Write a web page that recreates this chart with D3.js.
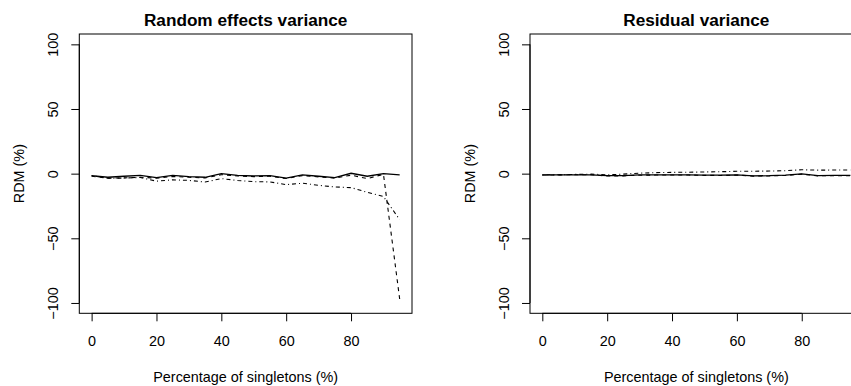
<!DOCTYPE html>
<html>
<head>
<meta charset="utf-8">
<script src="https://cdn.jsdelivr.net/npm/d3@7"></script>
<style>
  body { margin: 0; background: #fff; }
  svg text { font-family: "Liberation Sans", Arial, sans-serif; fill: #000; }
</style>
</head>
<body>
<svg id="chart" width="851" height="386"></svg>
<script>
const singletons = [0, 5, 10, 15, 20, 25, 30, 35, 40, 45, 50, 55, 60, 65, 70, 75, 80, 85, 90, 95];

// random effects variance panel
const reSolid   = [-1.5, -2.8, -2, -1.3, -3, -1.3, -2.3, -2.8, 0, -1.3, -1.8, -1.5, -3.4, -1, -2, -3, 0.3, -2, 0, -1];
const reDashed  = [-2, -3.5, -3.3, -2.8, -3.5, -2.2, -2.8, -3.3, -0.8, -1.8, -2.3, -2, -3.8, -1.5, -2.5, -3.5, -1.2, -3.8, -0.5, -97];
const reDotDash = [-1.5, -3.6, -3.4, -3, -5.8, -4.8, -5.2, -6.5, -3.8, -5.3, -6.2, -6.4, -8.5, -7.4, -9, -10.3, -10.8, -14.4, -17.7, -35.6];

// residual variance panel
const resSolid   = [-1, -1, -1, -1, -1.6, -1.5, -1, -1, -1, -1, -1.1, -1.2, -0.9, -1.7, -1.6, -1.2, -0.2, -1.5, -1.4, -1.4];
const resDashed  = [-1, -1, -0.8, -0.8, -1.8, -1.7, -1.2, -1.1, -1, -1.1, -1.3, -1.4, -1.1, -1.9, -1.8, -1.4, -0.4, -1.7, -1.6, -1.6];
const resDotDash = [-1, -0.8, -0.6, -0.4, -0.9, -0.4, 0.4, 0.8, 1, 1.1, 1.3, 1.5, 1.8, 1.9, 2, 2.3, 3, 2.7, 2.8, 2.8];

const xTicks = [0, 20, 40, 60, 80];
const yTicks = [-100, -50, 0, 50, 100];

const panels = [
  { title: "Random effects variance", left: 79.3, series: [reSolid, reDashed, reDotDash] },
  { title: "Residual variance", left: 530, series: [resSolid, resDashed, resDotDash] }
];

const lineStyles = [
  { dash: null, width: 1.3 },
  { dash: "4,4", width: 1.1 },
  { dash: "1,3,4,3", width: 1.1 }
];

const svg = d3.select("#chart");
const boxW = 332.7, boxTop = 34, boxBottom = 313.3;
const fontSize = 14.4;

panels.forEach(p => {
  const x = d3.scaleLinear().domain([-3.8, 98.8]).range([p.left, p.left + boxW]);
  const y = d3.scaleLinear().domain([-108, 108]).range([boxBottom, boxTop]);
  const g = svg.append("g");

  // plot box
  g.append("rect")
    .attr("x", p.left).attr("y", boxTop)
    .attr("width", boxW).attr("height", boxBottom - boxTop)
    .attr("fill", "none").attr("stroke", "#000").attr("stroke-width", 1);

  // x axis
  const xAxis = g.append("g")
    .attr("transform", `translate(0,${boxBottom})`)
    .call(d3.axisBottom(x).tickValues(xTicks).tickSize(8).tickSizeOuter(0).tickPadding(14));
  xAxis.select(".domain").attr("d", `M${x(0)},0H${x(80)}`);
  xAxis.selectAll("text").style("font-size", fontSize + "px")
    .style("font-family", '"Liberation Sans", Arial, sans-serif');

  // y axis
  const yAxis = g.append("g")
    .attr("transform", `translate(${p.left},0)`)
    .call(d3.axisLeft(y).tickValues(yTicks).tickSize(8).tickSizeOuter(0)
      .tickFormat(d => d < 0 ? "\u2212" + Math.abs(d) : d));
  yAxis.select(".domain").attr("d", `M0,${y(-100)}V${y(100)}`);
  yAxis.selectAll("text")
    .attr("x", null).attr("dy", null)
    .attr("text-anchor", "middle")
    .attr("dominant-baseline", "central")
    .attr("transform", "translate(-26,0) rotate(-90)")
    .style("font-size", fontSize + "px")
    .style("font-family", '"Liberation Sans", Arial, sans-serif');

  // lines
  p.series.forEach((vals, i) => {
    const line = d3.line()
      .x((d, j) => x(singletons[j]))
      .y(d => y(d));
    g.append("path")
      .datum(vals)
      .attr("d", line)
      .attr("fill", "none")
      .attr("stroke", "#000")
      .attr("stroke-width", lineStyles[i].width)
      .attr("stroke-dasharray", lineStyles[i].dash);
  });

  // title
  g.append("text")
    .attr("x", p.left + boxW / 2).attr("y", 20)
    .attr("text-anchor", "middle").attr("dominant-baseline", "central")
    .style("font-size", "17.2px").style("font-weight", "bold")
    .text(p.title);

  // axis labels
  g.append("text")
    .attr("x", p.left + boxW / 2).attr("y", 376.5)
    .attr("text-anchor", "middle").attr("dominant-baseline", "central")
    .style("font-size", fontSize + "px")
    .text("Percentage of singletons (%)");

  g.append("text")
    .attr("transform", `translate(${p.left - 60},${(boxTop + boxBottom) / 2}) rotate(-90)`)
    .attr("text-anchor", "middle").attr("dominant-baseline", "central")
    .style("font-size", fontSize + "px")
    .text("RDM (%)");
});
</script>
</body>
</html>
